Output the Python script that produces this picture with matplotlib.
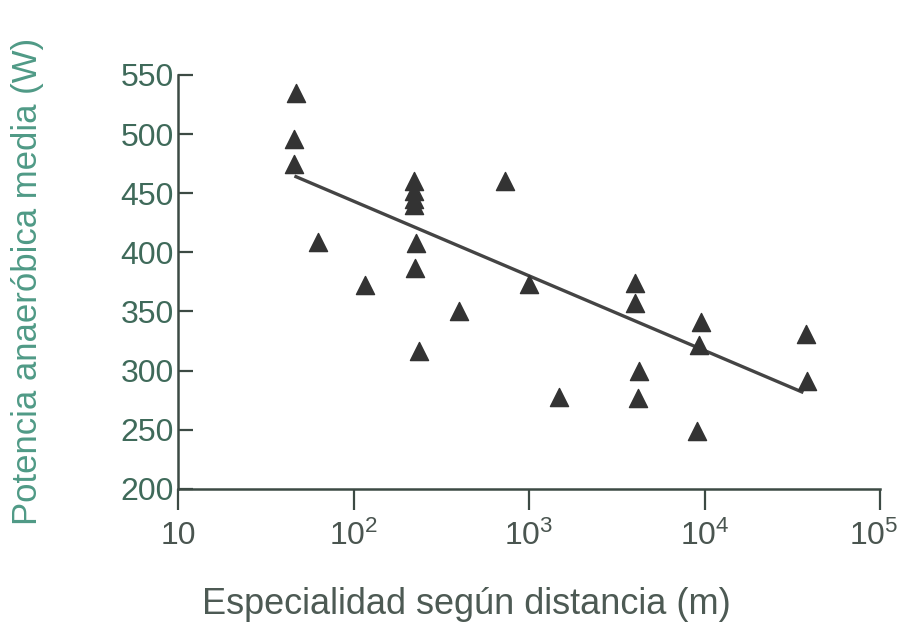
import matplotlib
matplotlib.use("Agg")
import matplotlib.pyplot as plt
import matplotlib.transforms as mtransforms

plt.rcParams['font.family'] = ['Liberation Sans', 'DejaVu Sans']
plt.rcParams['mathtext.fontset'] = 'custom'
plt.rcParams['mathtext.rm'] = 'Liberation Sans'
plt.rcParams['mathtext.it'] = 'Liberation Sans'

# distance (m) and mean anaerobic power (W)
distancia = [47, 46, 46, 63, 116, 220, 220, 220, 220, 226, 224, 235, 398, 729,
             1000, 1485, 3990, 3990, 4250, 4200, 9000, 9490, 9300, 37800, 38500]
potencia = [535, 496, 475, 409, 372, 460, 452, 445, 440, 408, 387, 317, 350, 460,
            373, 278, 374, 357, 300, 277, 249, 341, 322, 331, 291]

# regression line end points
linea_x = [47, 35800]
linea_y = [464, 282]

xticks = [10, 100, 1000, 10000, 100000]
xtick_labels = ['10', r'$10^2$', r'$10^3$', r'$10^4$', r'$10^5$']
yticks = [200, 250, 300, 350, 400, 450, 500, 550]

tick_color = '#3f6a5a'
axis_color = '#3c4a44'

fig = plt.figure(figsize=(8.99, 6.30), dpi=100)
ax = fig.add_axes([0.198, 0.224, 0.781, 0.657])

ax.plot(linea_x, linea_y, color='#444444', lw=2.4, zorder=2)
ax.scatter(distancia, potencia, marker='^', s=170, color='#333333', zorder=3)

ax.set_xscale('log')
ax.set_xlim(10, 100000)
ax.set_ylim(200, 550)
ax.set_xticks(xticks)
ax.set_xticklabels(xtick_labels)
ax.minorticks_off()
ax.set_yticks(yticks)

for s in ['top', 'right']:
    ax.spines[s].set_visible(False)
for s in ['left', 'bottom']:
    ax.spines[s].set_color(axis_color)
    ax.spines[s].set_linewidth(1.8)

ax.tick_params(axis='y', direction='in', length=11, width=1.6, color=axis_color,
               labelsize=23, labelcolor=tick_color, pad=3)
ax.tick_params(axis='x', direction='out', length=15, width=1.6, color=axis_color,
               labelsize=23, labelcolor='#4a5550', pad=8)
# last label sits a bit left so it stays inside the picture
last = ax.get_xticklabels()[-1]
last.set_horizontalalignment('right')
last.set_transform(last.get_transform() + mtransforms.ScaledTranslation(0.18, 0, fig.dpi_scale_trans))

ax.set_ylabel('Potencia anaeróbica media (W)', fontsize=25, color='#4f9a86', labelpad=55)
fig.text(466 / 899, 1 - 605 / 630, 'Especialidad según distancia (m)', fontsize=26,
         color='#4d5a54', ha='center', va='center')

fig.savefig('out.png', dpi=100, facecolor='white')
